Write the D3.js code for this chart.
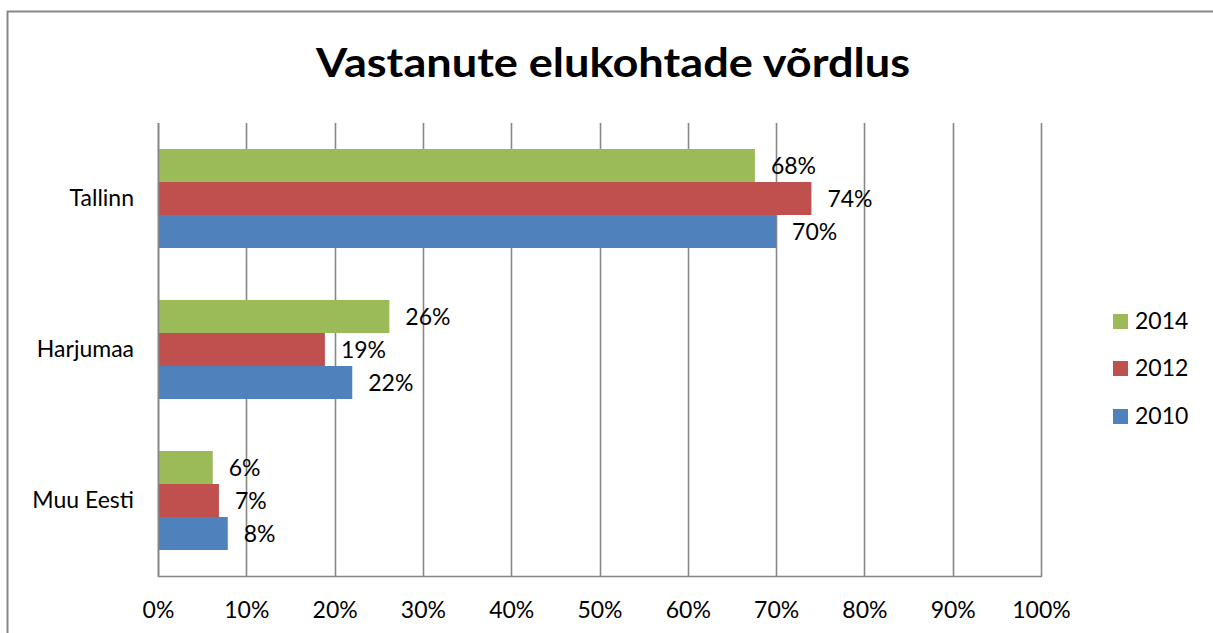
<!DOCTYPE html>
<html><head><meta charset="utf-8">
<script src="https://cdn.jsdelivr.net/npm/d3@7"></script>
<style>html,body{margin:0;padding:0;background:#fff;overflow:hidden}</style>
</head><body>
<svg id="chart" width="1213" height="633"></svg>
<script>
const categories = ["Tallinn", "Harjumaa", "Muu Eesti"];
const seriesNames = ["2014", "2012", "2010"];
const values2014 = [0.676, 0.262, 0.062];
const values2012 = [0.740, 0.189, 0.069];
const values2010 = [0.700, 0.220, 0.079];
const labels2014 = ["68%", "26%", "6%"];
const labels2012 = ["74%", "19%", "7%"];
const labels2010 = ["70%", "22%", "8%"];
const tickValues = [0, 0.1, 0.2, 0.3, 0.4, 0.5, 0.6, 0.7, 0.8, 0.9, 1.0];
const colors = ["#9BBB59", "#C0504D", "#4F81BD"];

const series = [
  {name: seriesNames[0], values: values2014, labels: labels2014, color: colors[0]},
  {name: seriesNames[1], values: values2012, labels: labels2012, color: colors[1]},
  {name: seriesNames[2], values: values2010, labels: labels2010, color: colors[2]}
];

const font = "Lato, 'Open Sans', sans-serif";
const fs = 23;
const svg = d3.select("#chart");

// outer border
svg.append("rect").attr("x", 7.5).attr("y", 11.5).attr("width", 1220).attr("height", 640)
  .attr("fill", "none").attr("stroke", "#878787").attr("stroke-width", 2);

const pLeft = 158, pRight = 1041, pTop = 123, pBottom = 576;
const x = d3.scaleLinear().domain([0, 1]).range([pLeft, pRight]);
const y = d3.scaleBand().domain(categories).range([pTop, pBottom]);

const barH = y.bandwidth() * 99 / 151 / 3;
const yb = d3.scaleBand().domain(seriesNames)
  .range([(y.bandwidth() - 3 * barH) / 2, (y.bandwidth() + 3 * barH) / 2]);

// gridlines
svg.append("g").selectAll("line").data(tickValues).join("line")
  .attr("x1", d => Math.round(x(d)) + 0.5).attr("x2", d => Math.round(x(d)) + 0.5)
  .attr("y1", pTop).attr("y2", pBottom + 0.5)
  .attr("stroke", "#878787").attr("stroke-width", 1.6);

// bars
series.forEach(s => {
  const g = svg.append("g");
  g.selectAll("rect").data(categories).join("rect")
    .attr("x", pLeft + 1)
    .attr("y", (c) => y(c) + yb(s.name))
    .attr("width", (c, i) => x(s.values[i]) - pLeft - 1)
    .attr("height", yb.bandwidth())
    .attr("fill", s.color);
  g.selectAll("text").data(categories).join("text")
    .attr("x", (c, i) => x(s.values[i]) + 16)
    .attr("y", (c) => y(c) + yb(s.name) + yb.bandwidth() / 2)
    .attr("dy", "0.36em")
    .attr("font-family", font).attr("font-size", fs).attr("fill", "#000")
    .text((c, i) => s.labels[i]);
});

// axis lines
svg.append("line").attr("x1", pLeft).attr("x2", pRight + 1).attr("y1", pBottom + 0.5).attr("y2", pBottom + 0.5)
  .attr("stroke", "#878787").attr("stroke-width", 1.6);
svg.append("line").attr("x1", pLeft + 0.5).attr("x2", pLeft + 0.5).attr("y1", pTop).attr("y2", pBottom + 1)
  .attr("stroke", "#878787").attr("stroke-width", 1.6);

// x axis
const xAxis = d3.axisBottom(x).tickValues(tickValues).tickFormat(d3.format(".0%")).tickSize(0).tickPadding(0);
const xg = svg.append("g").attr("transform", `translate(0, ${pBottom + 26})`).call(xAxis);
xg.select(".domain").remove();
xg.selectAll("text").attr("font-family", font).attr("font-size", fs).attr("fill", "#000");

// y axis
const yAxis = d3.axisLeft(y).tickSize(0).tickPadding(0);
const yg = svg.append("g").attr("transform", `translate(${pLeft - 24}, 0)`).call(yAxis);
yg.select(".domain").remove();
yg.selectAll("text").attr("font-family", font).attr("font-size", fs).attr("fill", "#000");

// title
svg.append("text").attr("x", 613).attr("y", 77).attr("text-anchor", "middle")
  .attr("font-family", font).attr("font-weight", "bold").attr("font-size", 40)
  .attr("textLength", 594).attr("lengthAdjust", "spacingAndGlyphs")
  .text("Vastanute elukohtade võrdlus");

// legend
const legendY = [321, 368, 416];
const lg = svg.append("g");
series.forEach((s, i) => {
  lg.append("rect").attr("x", 1113).attr("y", legendY[i] - 7).attr("width", 15).attr("height", 15).attr("fill", s.color);
  lg.append("text").attr("x", 1135).attr("y", legendY[i]).attr("dy", "0.36em")
    .attr("font-family", font).attr("font-size", fs).attr("fill", "#000").text(s.name);
});
</script>
</body></html>
